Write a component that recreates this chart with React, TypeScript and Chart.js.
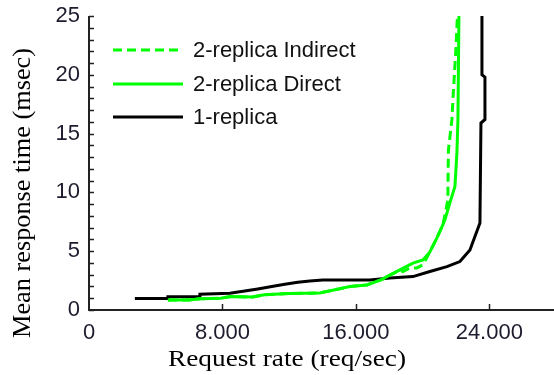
import React, { useEffect, useRef } from "react";
import { Chart, registerables } from "chart.js";

Chart.register(...registerables);

// Request rate (req/sec) and mean response time (msec) for each configuration
const oneReplicaRate = [2750, 4730, 4730, 6650, 6650, 8440, 9340, 10120, 10960, 11740, 12520, 13240, 14020, 16840, 18040, 19420, 20440, 21460, 22240, 22840, 23440, 23500, 23740, 23740, 23560, 23560];
const oneReplicaTime = [0.98, 0.98, 1.13, 1.13, 1.34, 1.42, 1.62, 1.79, 1.99, 2.19, 2.36, 2.47, 2.56, 2.56, 2.73, 2.84, 3.27, 3.69, 4.12, 5.1, 7.4, 15.9, 16.2, 19.8, 20.0, 25];

const directRate = [4730, 6000, 6650, 7900, 8500, 9800, 10500, 12000, 13840, 15640, 16660, 17500, 18640, 19420, 20020, 20440, 20860, 21220, 21340, 21640, 21940, 22060, 22120, 22180];
const directTime = [0.85, 0.85, 0.95, 1.0, 1.15, 1.1, 1.3, 1.4, 1.45, 1.99, 2.13, 2.56, 3.41, 3.98, 4.26, 4.94, 6.14, 7.25, 7.67, 9.12, 10.5, 13.4, 16.2, 25];

const indirectRate = [4730, 6000, 6650, 7900, 8500, 9800, 10500, 12000, 13840, 15640, 16660, 17500, 18640, 18820, 19240, 19660, 20020, 20440, 20860, 21220, 21520, 21520, 21550, 21760, 21820, 22000, 22090];
const indirectTime = [0.85, 0.85, 0.95, 1.0, 1.15, 1.1, 1.3, 1.4, 1.45, 1.99, 2.13, 2.56, 3.41, 3.27, 3.58, 3.58, 3.84, 4.94, 6.14, 7.25, 9.38, 10.5, 13.6, 16.2, 17.9, 22.2, 25];

const xTickValues = [0, 8000, 16000, 24000];
const seriesLabels = ["2-replica Indirect", "2-replica Direct", "1-replica"];
const xTitle = "Request rate (req/sec)";
const yTitle = "Mean response time (msec)";

const GREEN = "#00ff00";
const AXIS = "#222222";
const SERIF = "'Liberation Serif', 'Times New Roman', serif";
const SANS = "'Liberation Sans', Arial, sans-serif";

const toPoints = (xs: number[], ys: number[]) => xs.map((x, i) => ({ x, y: ys[i] }));

const formatThousands = (v: number) =>
  String(Math.round(v)).replace(/\B(?=(\d{3})+(?!\d))/g, ".");

// Draws the axis lines with inward tick marks
const axesPlugin = {
  id: "axesLines",
  afterDatasetsDraw(chart: any) {
    const { ctx, chartArea, scales } = chart;
    const xs = scales.x;
    const ys = scales.y;
    ctx.save();
    ctx.strokeStyle = AXIS;
    ctx.lineWidth = 2;
    ctx.beginPath();
    ctx.moveTo(chartArea.left, ys.getPixelForValue(25));
    ctx.lineTo(chartArea.left, chartArea.bottom);
    ctx.lineTo(chartArea.right, chartArea.bottom);
    ctx.stroke();
    ctx.lineWidth = 1.5;
    ctx.beginPath();
    for (let v = 0; v <= 25; v++) {
      const py = Math.round(ys.getPixelForValue(v)) + 0.5;
      ctx.moveTo(chartArea.left, py);
      ctx.lineTo(chartArea.left + 5, py);
    }
    for (const v of xTickValues) {
      if (v === 0) continue;
      const px = Math.round(xs.getPixelForValue(v)) + 0.5;
      ctx.moveTo(px, chartArea.bottom);
      ctx.lineTo(px, chartArea.bottom - 6);
    }
    ctx.stroke();
    ctx.restore();
  },
};

// Draws a serif axis title stretched to a given span
function drawTitle(ctx: any, text: string, size: number, span: number) {
  ctx.font = `${size}px ${SERIF}`;
  const w = ctx.measureText(text).width;
  ctx.scale(span / w, 1);
  ctx.fillText(text, 0, 0);
}

const titlesPlugin = {
  id: "axisTitles",
  afterDraw(chart: any) {
    const { ctx } = chart;
    ctx.save();
    ctx.fillStyle = "#000000";
    ctx.textAlign = "center";
    ctx.textBaseline = "alphabetic";
    ctx.save();
    ctx.translate(287, 366);
    drawTitle(ctx, xTitle, 23, 238);
    ctx.restore();
    ctx.save();
    ctx.translate(30, 193);
    ctx.rotate(-Math.PI / 2);
    drawTitle(ctx, yTitle, 26, 290);
    ctx.restore();
    ctx.restore();
  },
};

// Legend box in the upper-left of the plot
const legendPlugin = {
  id: "insideLegend",
  afterDraw(chart: any) {
    const { ctx } = chart;
    const rows = [50, 84, 117];
    ctx.save();
    ctx.font = `22px ${SANS}`;
    ctx.textBaseline = "middle";
    ctx.fillStyle = "#111111";
    chart.data.datasets.forEach((ds: any, i: number) => {
      const y = rows[i];
      ctx.strokeStyle = ds.borderColor;
      ctx.lineWidth = 3;
      ctx.setLineDash(ds.borderDash || []);
      ctx.beginPath();
      ctx.moveTo(113, y);
      ctx.lineTo(183, y);
      ctx.stroke();
      ctx.setLineDash([]);
      ctx.fillText(ds.label, 193, y + 1);
    });
    ctx.restore();
  },
};

export default function App() {
  const canvasRef = useRef<HTMLCanvasElement | null>(null);

  useEffect(() => {
    if (!canvasRef.current) return;
    const chart = new Chart(canvasRef.current, {
      type: "line",
      data: {
        datasets: [
          {
            label: seriesLabels[0],
            data: toPoints(indirectRate, indirectTime),
            borderColor: GREEN,
            borderWidth: 3,
            borderDash: [9, 5],
            pointRadius: 0,
            tension: 0,
          },
          {
            label: seriesLabels[1],
            data: toPoints(directRate, directTime),
            borderColor: GREEN,
            borderWidth: 3,
            pointRadius: 0,
            tension: 0,
          },
          {
            label: seriesLabels[2],
            data: toPoints(oneReplicaRate, oneReplicaTime),
            borderColor: "#000000",
            borderWidth: 3,
            pointRadius: 0,
            tension: 0,
          },
        ],
      },
      options: {
        animation: false,
        responsive: false,
        devicePixelRatio: 1,
        layout: { autoPadding: false, padding: { top: 16, right: 4, left: 0, bottom: 0 } },
        plugins: { legend: { display: false }, tooltip: { enabled: false } },
        scales: {
          x: {
            type: "linear",
            min: 0,
            max: 28000,
            afterFit: (s: any) => {
              s.height = 65;
              s.paddingLeft = 0;
              s.paddingRight = 0;
            },
            afterBuildTicks: (s: any) => {
              s.ticks = xTickValues.map((value) => ({ value }));
            },
            grid: { display: false, drawTicks: false },
            border: { display: false },
            ticks: {
              padding: 10,
              color: "#1c1c2e",
              font: { family: SANS, size: 22 },
              callback: (v: any) => formatThousands(Number(v)),
              maxRotation: 0,
            },
            title: { display: false },
          },
          y: {
            type: "linear",
            min: 0,
            max: 25,
            afterFit: (s: any) => {
              s.width = 89;
              s.paddingTop = 0;
              s.paddingBottom = 0;
            },
            grid: { display: false, drawTicks: false },
            border: { display: false },
            ticks: {
              stepSize: 5,
              padding: 9,
              color: "#1c1c2e",
              font: { family: SANS, size: 22 },
            },
            title: { display: false },
          },
        },
      },
      plugins: [axesPlugin, titlesPlugin, legendPlugin],
    });
    return () => chart.destroy();
  }, []);

  return (
    <div
      style={{
        position: "fixed",
        left: 0,
        top: 0,
        width: 554,
        height: 375,
        overflow: "hidden",
        background: "#ffffff",
      }}
    >
      <canvas ref={canvasRef} width={560} height={375} style={{ display: "block" }} />
    </div>
  );
}
